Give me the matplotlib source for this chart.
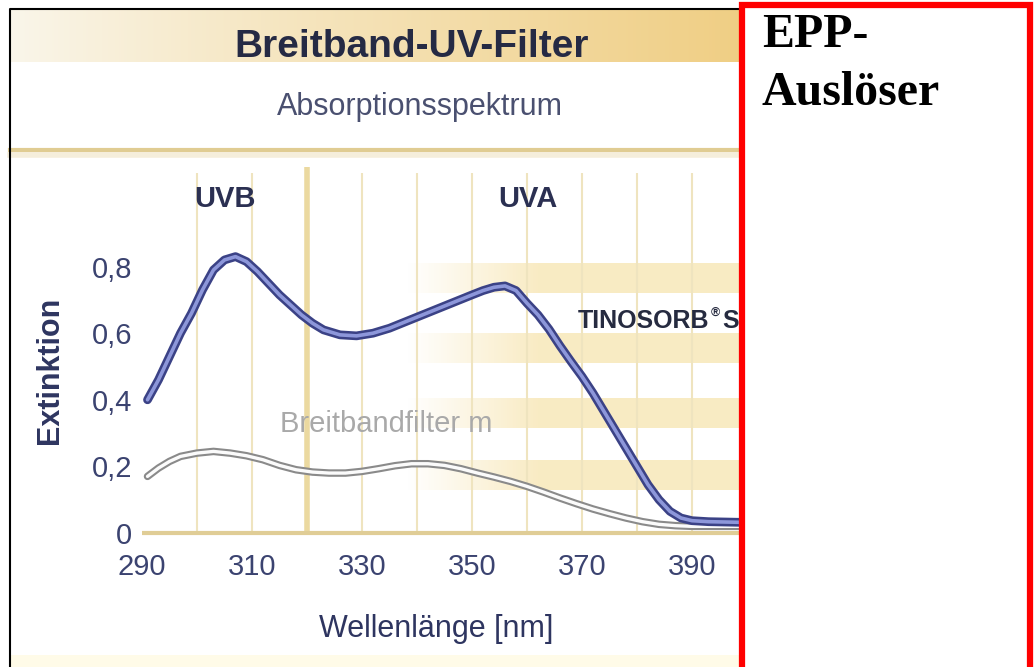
# -*- coding: utf-8 -*-
# Breitband-UV-Filter - Absorptionsspektrum (TINOSORB S vs. Breitbandfilter)

import numpy as np
import matplotlib
matplotlib.use('Agg')
import matplotlib.pyplot as plt
from matplotlib.patches import Rectangle
from matplotlib.lines import Line2D

# ------------------------------------------------------------ data ------------------------------------------------------

wl_tinosorb = [291, 293, 295, 297, 299, 301, 303, 305, 307, 309, 311, 313, 315, 317, 319, 321, 323, 326,
               329, 332, 335, 338, 341, 344, 347, 350, 352, 354, 356, 358, 360, 362, 364, 366, 368, 370,
               372, 374, 376, 378, 380, 382, 384, 386, 388, 390, 393, 396, 399]
ext_tinosorb = [0.40, 0.46, 0.53, 0.60, 0.66, 0.73, 0.79, 0.82, 0.83, 0.815, 0.785, 0.75, 0.715, 0.685,
                0.655, 0.63, 0.61, 0.595, 0.592, 0.60, 0.615, 0.635, 0.655, 0.675, 0.695, 0.715, 0.728,
                0.738, 0.742, 0.728, 0.69, 0.655, 0.612, 0.562, 0.515, 0.47, 0.42, 0.365, 0.31, 0.255,
                0.20, 0.145, 0.10, 0.065, 0.045, 0.037, 0.034, 0.033, 0.032]

wl_broad = [291, 293, 295, 297, 300, 303, 306, 309, 312, 315, 318, 321, 324, 327, 330, 333, 336, 339,
            342, 345, 348, 351, 354, 357, 360, 363, 366, 369, 372, 375, 378, 381, 384, 387, 390, 395, 399]
ext_broad = [0.17, 0.195, 0.215, 0.23, 0.24, 0.245, 0.24, 0.232, 0.22, 0.203, 0.19, 0.183, 0.18, 0.18,
             0.185, 0.193, 0.202, 0.208, 0.208, 0.203, 0.193, 0.18, 0.168, 0.155, 0.14, 0.123, 0.105,
             0.088, 0.072, 0.058, 0.045, 0.034, 0.026, 0.022, 0.02, 0.02, 0.02]

x_ticks = [290, 310, 330, 350, 370, 390]
x_tick_labels = ['290', '310', '330', '350', '370', '390']
y_ticks = [0, 0.2, 0.4, 0.6, 0.8]
y_tick_labels = ['0', '0,2', '0,4', '0,6', '0,8']
grid_nm = [300, 310, 330, 340, 350, 360, 370, 380, 390]
border_nm = 320
stripes = [(0.72, 0.81), (0.51, 0.60), (0.315, 0.405), (0.13, 0.22)]

# ------------------------------------------------------------ fonts and helpers --------------------------------------------------------------

plt.rcParams['font.family'] = ['Liberation Sans', 'DejaVu Sans']

W, H = 1034, 667

def fx(x):
    return x / W

def fy(y):
    return 1 - y / H

NAVY = '#2b3052'
TICK = '#3b4370'
SERIF = ['Liberation Serif', 'DejaVu Serif']

fig = plt.figure(figsize=(W / 100, H / 100), dpi=100, facecolor='white')

# ------------------------------------------------------------ header band -------------------------------------------------------------------

hax = fig.add_axes([fx(10), fy(62), fx(740) - fx(10), (62 - 10) / H])
t = np.linspace(0, 1, 300) ** 0.9
c0 = np.array([0.98, 0.965, 0.92])
c1 = np.array([0.94, 0.81, 0.52])
grad = c0[None, :] * (1 - t[:, None]) + c1[None, :] * t[:, None]
hax.imshow(grad[None, :, :], aspect='auto', extent=[0, 1, 0, 1])
hax.axis('off')

fig.text(fx(412), fy(57), 'Breitband-UV-Filter', ha='center', va='baseline',
         fontsize=28, fontweight='bold', color='#252a44')
fig.text(fx(420), fy(115), 'Absorptionsspektrum', ha='center', va='baseline',
         fontsize=22, color='#4a5070')

# golden separator line with a soft shadow
fig.add_artist(Line2D([fx(10), fx(740)], [fy(155), fy(155)], color='#f5eedb', lw=4))
fig.add_artist(Line2D([fx(10), fx(740)], [fy(150), fy(150)], color='#e0cc92', lw=3))

# light strip at the bottom
fig.add_artist(Rectangle((fx(10), 0), fx(740) - fx(10), 12 / H, transform=fig.transFigure,
                         facecolor='#fffbe8', edgecolor='none'))

# ------------------------------------------------------------ spectrum axes -----------------------------------------------------------------

ax = fig.add_axes([fx(142), fy(545), fx(740) - fx(142), (545 - 160) / H])
ax.set_xlim(290, 290 + (740 - 142) / 5.5)
ax.set_ylim(-(545 - 533) / 333, (533 - 160) / 333)
ax.patch.set_alpha(0)
for s in ax.spines.values():
    s.set_visible(False)

# background stripes on the right, fading in
for lo, hi in stripes:
    a = np.clip((np.linspace(338, 398.7, 200) - 338) / 24, 0, 1) * 0.55
    img = np.zeros((1, 200, 4))
    img[0, :, 0], img[0, :, 1], img[0, :, 2] = 0.96, 0.86, 0.58
    img[0, :, 3] = a
    ax.imshow(img, aspect='auto', extent=[338, 398.7, lo, hi], zorder=0.5)

ax.vlines(grid_nm, 0, 1.08, color='#efe4bf', lw=1.5, zorder=1)
ax.vlines([border_nm], 0, 1.1, color='#ebd9a0', lw=4, zorder=1)
ax.axhline(0, color='#e0cd96', lw=3, zorder=1.5)

ax.plot(wl_broad, ext_broad, color='#8a8a8a', lw=5.4, solid_capstyle='round', solid_joinstyle='round', zorder=2)
ax.plot(wl_broad, ext_broad, color='#fbfbfb', lw=2.4, solid_capstyle='round', solid_joinstyle='round', zorder=2.1)
ax.plot(wl_tinosorb, ext_tinosorb, color='#3b4286', lw=6.3, solid_capstyle='round', solid_joinstyle='round', zorder=3)
ax.plot(wl_tinosorb, ext_tinosorb, color='#8d97da', lw=2.6, solid_capstyle='round', solid_joinstyle='round', zorder=3.1)

ax.set_xticks(x_ticks)
ax.set_xticklabels(x_tick_labels)
ax.set_yticks(y_ticks)
ax.set_yticklabels(y_tick_labels)
ax.tick_params(length=0, labelsize=21, labelcolor=TICK)
ax.tick_params(axis='x', pad=6)
ax.tick_params(axis='y', pad=7)

ax.text(315.1, (533 - 432) / 333, 'Breitbandfilter m', ha='left', va='baseline',
        fontsize=21, color='#a9a9a9', zorder=4)

# TINOSORB(R) S label, pieces put side by side
y_lab = (533 - 328) / 333
renderer = fig.canvas.get_renderer()
t1 = ax.text(578 / 5.5 - 142 / 5.5 + 290, y_lab, 'TINOSORB', ha='left', va='baseline',
             fontsize=18, fontweight='bold', color='#262b40', zorder=4)
x1 = t1.get_window_extent(renderer).x1
t2 = fig.text(fx(x1 + 1), fy(316), '®', ha='left', va='baseline', fontsize=9,
              fontweight='bold', color='#262b40')
x2 = t2.get_window_extent(renderer).x1
fig.text(fx(x2 + 3), fy(328), 'S', ha='left', va='baseline', fontsize=18,
         fontweight='bold', color='#262b40')

# ------------------------------------------------------------ labels around the axes --------------------------------------------------------

fig.text(fx(225), fy(207), 'UVB', ha='center', va='baseline', fontsize=21, fontweight='bold', color=NAVY)
fig.text(fx(528), fy(207), 'UVA', ha='center', va='baseline', fontsize=21, fontweight='bold', color=NAVY)
fig.text(fx(50), fy(370), 'Extinktion', ha='center', va='center', rotation=90,
         fontsize=22, fontweight='bold', color='#2e3560')
fig.text(fx(436), fy(637), 'Wellenlänge [nm]', ha='center', va='baseline', fontsize=22, color='#2e3560')

# black frame of the picture
fig.add_artist(Line2D([fx(10), fx(10), fx(740)], [0, fy(9), fy(9)], color='black', lw=1.5))

# ------------------------------------------------------------ red box on the right ----------------------------------------------------------

fig.add_artist(Rectangle((fx(742), fy(700)), fx(1030) - fx(742), (700 - 5) / H, transform=fig.transFigure,
                         facecolor='white', edgecolor='#ff0000', lw=4.5, zorder=10))
fig.text(fx(762), fy(47), 'EPP-', ha='left', va='baseline', fontsize=34.5, fontweight='bold',
         family=SERIF, color='black', zorder=11)
fig.text(fx(762), fy(105), 'Auslöser', ha='left', va='baseline', fontsize=34.5, fontweight='bold',
         family=SERIF, color='black', zorder=11)

fig.savefig('out.png', dpi=100, facecolor='white')
